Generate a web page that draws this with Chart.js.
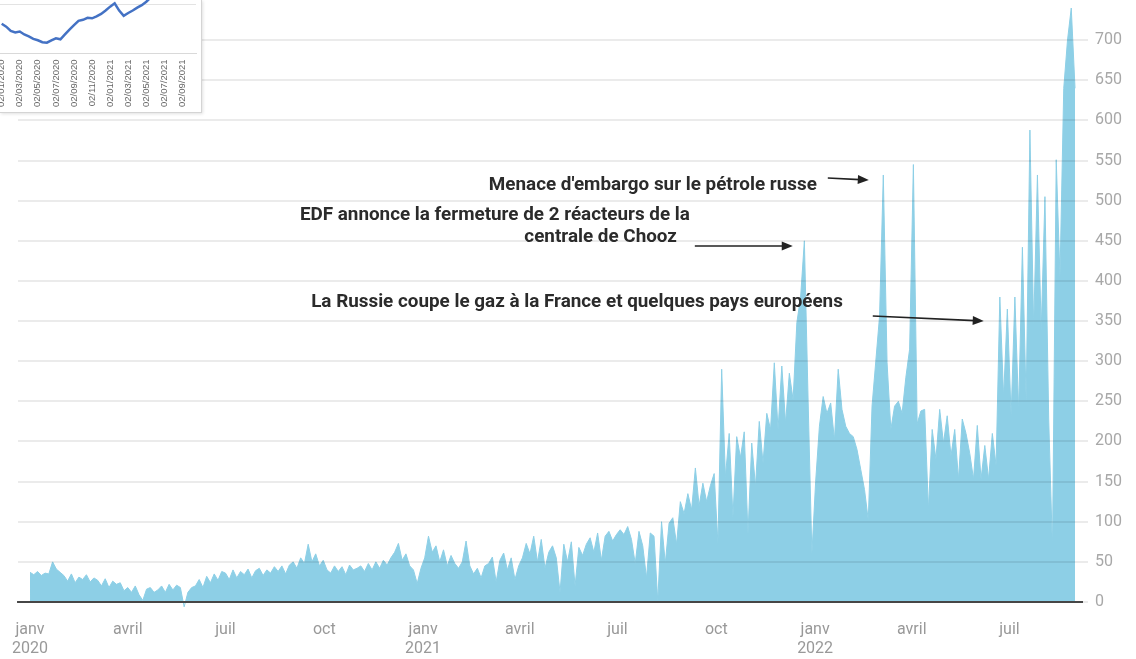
<!DOCTYPE html>
<html>
<head>
<meta charset="utf-8">
<script src="https://cdn.jsdelivr.net/npm/chart.js@4.4.0/dist/chart.umd.min.js"></script>
<style>
  body { margin: 0; background: #fff; }
  #wrap { position: relative; width: 1136px; height: 659px; }
  #inset { position: absolute; left: 0; top: 0; width: 201px; height: 112px; overflow: hidden; background: #fff;
           border-right: 1px solid #d4d4d4; border-bottom: 1px solid #d4d4d4; box-shadow: 1px 1px 3px rgba(0,0,0,0.12); }
  #insetChart { position: absolute; left: 0; top: 0; }
</style>
</head>
<body>
<div id="wrap">
  <canvas id="chart" width="1136" height="659"></canvas>
  <div id="inset"><canvas id="insetChart" width="224" height="200"></canvas></div>
</div>
<script>
// prix spot, un point tous les 3,5 jours depuis le 1er janvier 2020
var stepDays = 3.5;
var prices2020 = [
  37,34,38,33,36,35,50,41,37,
  33,26,35,24,31,28,34,25,30,
  27,20,29,18,26,22,24,14,
  18,12,20,9,2,16,18,12,15,
  20,12,22,15,21,18,-6,12,18,
  20,28,18,32,24,35,27,38,
  36,28,40,30,38,34,41,30,39,
  42,33,40,36,44,38,45,35,46,
  50,42,55,48,72,50,60,45,52,
  40,36,45,38,44,34,46,40,42,
  45,38,48,40,50,42,52,46,
  55,62,73,52,60,45,40,23,42
];
var prices2021 = [
  55,82,62,70,50,65,45,58,48,
  42,50,76,45,35,42,30,45,
  48,56,25,52,61,40,55,28,45,
  55,73,60,82,50,78,42,62,
  70,55,12,72,50,75,20,68,58,
  72,80,62,86,52,82,88,76,84,
  90,84,94,78,48,88,70,30,86,
  82,1,100,48,98,105,72,125,
  110,135,115,167,120,148,125,145,160,
  73,290,156,210,106,206,180,212,85,
  198,144,225,173,235,215,298,215,
  294,223,285,252,348,380,450,250,60
];
var prices2022 = [
  150,219,256,235,248,202,290,240,219,
  210,206,190,165,140,102,244,300,
  356,532,298,215,244,250,235,280,315,
  545,222,238,240,115,215,178,240,198,
  232,182,215,153,228,210,185,153,
  220,153,195,153,210,170,380,255,365,
  232,380,238,442,250,588,342,532,338,
  505,228,65,551,405,640,700,740,640
];
var prices = prices2020.concat(prices2021, prices2022);

// jours depuis le 1er janvier 2020 pour les graduations
var tickDays = [0, 91, 182, 274, 366, 456, 547, 639, 731, 821, 912];
var tickLabels = [['janv', '2020'], 'avril', 'juil', 'oct', ['janv', '2021'], 'avril', 'juil', 'oct', ['janv', '2022'], 'avril', 'juil'];
var yTicks = [0, 50, 100, 150, 200, 250, 300, 350, 400, 450, 500, 550, 600, 650, 700];

// annotations : texte [ligne, jour, valeur], fleche [jour1, val1, jour2, val2]
var notes = [
  { lines: [["Menace d'embargo sur le pétrole russe", 732.6, 519.5]], arrow: [742.8, 528.2, 781, 525.7] },
  { lines: [["EDF annonce la fermeture de 2 réacteurs de la", 614.4, 482.1], ["centrale de Chooz", 602.3, 454.7]], arrow: [619, 443.5, 710.2, 443.5] },
  { lines: [["La Russie coupe le gaz à la France et quelques pays européens", 756.8, 373.7]], arrow: [784.7, 356.3, 888, 350.1] }
];

// petit graphique en haut a gauche (valeurs tous les demi-mois)
var insetStep = 0.5;
var insetValues = [6.1,5.5,4.6,4.3,4.5,3.9,3.5,3.0,2.7,2.3,2.2,2.7,3.1,2.9,3.9,4.9,5.8,6.7,6.9,7.3,7.2,7.6,8.1,8.8,9.6,10.3,8.8,7.7,8.3,8.8,9.4,9.9,10.6,11.5];
var insetTickMonths = [0, 2, 4, 6, 8, 10, 12, 14, 16, 18, 20];
var insetTickLabels = ['02/01/2020','02/03/2020','02/05/2020','02/07/2020','02/09/2020','02/11/2020','02/01/2021','02/03/2021','02/05/2021','02/07/2021','02/09/2021'];

var blue = '#8dcfe6';

var notesPlugin = {
  id: 'notes',
  afterDraw: function(chart) {
    var ctx = chart.ctx, xs = chart.scales.x, ys = chart.scales.y;
    ctx.save();
    ctx.font = 'bold 18px Roboto';
    var sx = 328 / ctx.measureText(notes[0].lines[0][0]).width;
    ctx.textAlign = 'right';
    ctx.textBaseline = 'middle';
    notes.forEach(function(n) {
      ctx.fillStyle = '#2b2b2b';
      n.lines.forEach(function(l) {
        ctx.save();
        ctx.translate(xs.getPixelForValue(l[1]), ys.getPixelForValue(l[2]));
        ctx.scale(sx, 1);
        ctx.fillText(l[0], 0, 0);
        ctx.restore();
      });
      var x1 = xs.getPixelForValue(n.arrow[0]), y1 = ys.getPixelForValue(n.arrow[1]);
      var x2 = xs.getPixelForValue(n.arrow[2]), y2 = ys.getPixelForValue(n.arrow[3]);
      var a = Math.atan2(y2 - y1, x2 - x1);
      ctx.strokeStyle = '#222';
      ctx.lineWidth = 1.6;
      ctx.beginPath();
      ctx.moveTo(x1, y1);
      ctx.lineTo(x2 - 9 * Math.cos(a), y2 - 9 * Math.sin(a));
      ctx.stroke();
      ctx.fillStyle = '#222';
      ctx.beginPath();
      ctx.moveTo(x2, y2);
      ctx.lineTo(x2 - 11 * Math.cos(a) + 4.5 * Math.sin(a), y2 - 11 * Math.sin(a) - 4.5 * Math.cos(a));
      ctx.lineTo(x2 - 11 * Math.cos(a) - 4.5 * Math.sin(a), y2 - 11 * Math.sin(a) + 4.5 * Math.cos(a));
      ctx.closePath();
      ctx.fill();
    });
    ctx.restore();
  }
};

new Chart(document.getElementById('chart'), {
  type: 'line',
  data: {
    datasets: [{
      data: prices.map(function(v, i) { return { x: i * stepDays, y: v }; }),
      fill: 'origin',
      backgroundColor: blue,
      borderColor: blue,
      borderWidth: 1,
      pointRadius: 0,
      tension: 0,
      clip: { left: 0, top: 0, right: 0, bottom: 6 }
    }]
  },
  options: {
    responsive: false,
    animation: false,
    layout: { padding: { left: 18, right: 14, top: 0, bottom: 0 } },
    plugins: { legend: { display: false }, tooltip: { enabled: false } },
    scales: {
      x: {
        type: 'linear', min: -11.2, max: 979.5,
        afterBuildTicks: function(s) { s.ticks = tickDays.map(function(d) { return { value: d }; }); },
        afterFit: function(s) { s.height = 57; s.paddingLeft = 0; s.paddingRight = 0; },
        ticks: {
          callback: function(v, i) { return tickLabels[i]; },
          color: '#999', font: { family: 'Roboto', size: 16, lineHeight: 1.2 },
          padding: 18, maxRotation: 0, autoSkip: false
        },
        grid: { display: false, drawTicks: false },
        border: { display: true, color: '#4d4d4d', width: 2, z: 1 }
      },
      y: {
        position: 'right', min: 0, max: 750,
        afterBuildTicks: function(s) { s.ticks = yTicks.map(function(v) { return { value: v }; }); },
        afterFit: function(s) { s.width = 40; s.paddingTop = 0; s.paddingBottom = 0; },
        ticks: { color: '#a8a8a8', font: { family: 'Roboto', size: 16 }, padding: 7 },
        grid: { color: 'rgba(0,0,0,0.08)', lineWidth: 2, tickLength: 6, z: 1 },
        border: { display: false }
      }
    }
  },
  plugins: [notesPlugin]
});

// Start inset
var insetCanvas = document.getElementById('insetChart');
var inset = new Chart(insetCanvas, {
  type: 'line',
  data: {
    datasets: [{
      data: insetValues.map(function(v, i) { return { x: i * insetStep, y: v }; }),
      borderColor: '#4472c4', borderWidth: 2.5, pointRadius: 0, fill: false, tension: 0
    }]
  },
  options: {
    responsive: false,
    animation: false,
    layout: { padding: { left: 0, right: 8, top: 0, bottom: 0 } },
    plugins: { legend: { display: false }, tooltip: { enabled: false } },
    scales: {
      x: {
        type: 'linear', min: -2.4, max: 21.5,
        afterBuildTicks: function(s) { s.ticks = insetTickMonths.map(function(m) { return { value: m }; }); },
        ticks: {
          callback: function(v, i) { return insetTickLabels[i]; },
          minRotation: 90, maxRotation: 90, autoSkip: false,
          color: '#666', font: { family: 'Liberation Sans', size: 9.5 }, padding: 6
        },
        grid: { display: false, drawTicks: false },
        border: { color: '#d9d9d9', width: 1 }
      },
      y: {
        min: 0, max: 28.8,
        afterBuildTicks: function(s) { s.ticks = [{ value: 0 }, { value: 10 }, { value: 20 }]; },
        ticks: { display: false },
        grid: { color: '#e3e3e3', drawTicks: false },
        border: { display: false }
      }
    }
  }
});
insetCanvas.style.top = (53 - inset.chartArea.bottom) + 'px';
insetCanvas.style.left = (2 - inset.scales.x.getPixelForValue(0)) + 'px';
// End inset
</script>
</body>
</html>
